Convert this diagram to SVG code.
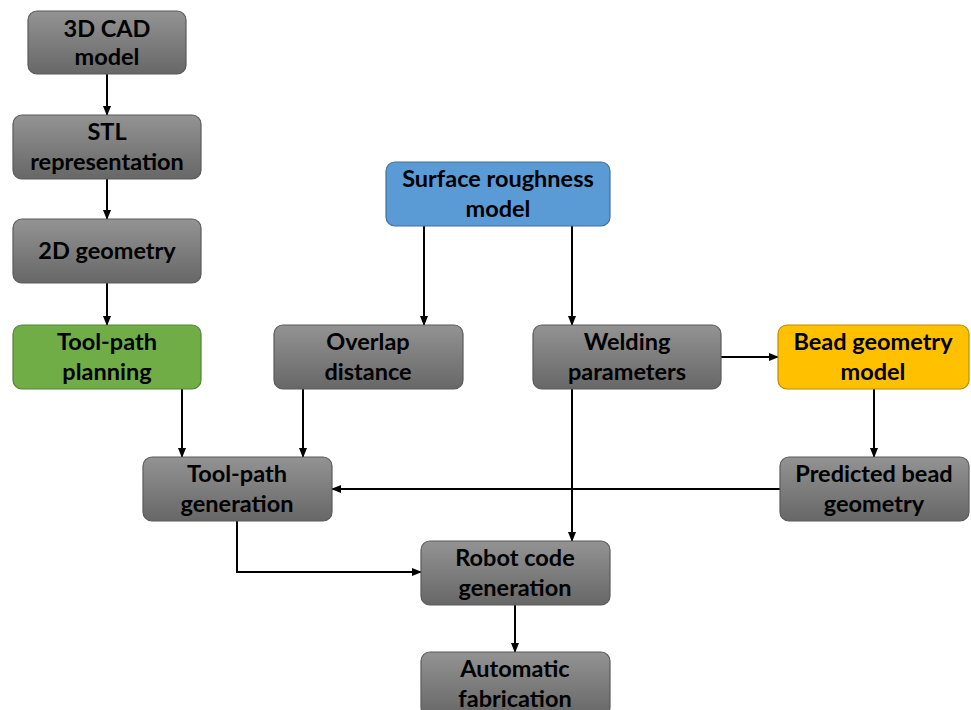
<svg xmlns="http://www.w3.org/2000/svg" width="971" height="710" viewBox="0 0 971 710">
<defs>
<linearGradient id="gray" x1="0" y1="0" x2="0" y2="1">
<stop offset="0" stop-color="#939393"/>
<stop offset="1" stop-color="#676767"/>
</linearGradient>
<marker id="arr" markerWidth="10" markerHeight="8" refX="9" refY="4" orient="auto" markerUnits="userSpaceOnUse">
<path d="M0,0 L10,4 L0,8 Z" fill="#000"/>
</marker>
<style>
.box{fill:url(#gray);stroke:#5a5a5a;stroke-width:1.2}
.green{fill:#70ad47;stroke:#548235;stroke-width:1.2}
.blue{fill:#5b9bd5;stroke:#41719c;stroke-width:1.2}
.yellow{fill:#ffc000;stroke:#bc8c00;stroke-width:1.2}
text{font-family:Lato,"Open Sans","Liberation Sans",sans-serif;font-weight:bold;font-size:23.5px;fill:#000;text-anchor:middle}
.c{fill:none;stroke:#000;stroke-width:2;marker-end:url(#arr)}
</style>
</defs>
<rect width="971" height="710" fill="#fff"/>
<g id="connectors">
<line class="c" x1="107" y1="74" x2="107" y2="115"/>
<line class="c" x1="107" y1="179" x2="107" y2="219"/>
<line class="c" x1="107" y1="283" x2="107" y2="325"/>
<line class="c" x1="182" y1="389" x2="182" y2="457"/>
<line class="c" x1="303" y1="389" x2="303" y2="457"/>
<line class="c" x1="424" y1="226" x2="424" y2="325"/>
<line class="c" x1="572" y1="226" x2="572" y2="325"/>
<line class="c" x1="721" y1="357" x2="778" y2="357"/>
<line class="c" x1="874" y1="389" x2="874" y2="457"/>
<line class="c" x1="780" y1="489" x2="332" y2="489"/>
<line class="c" x1="572" y1="389" x2="572" y2="541"/>
<polyline class="c" points="237,521 237,572 421,572"/>
<line class="c" x1="515" y1="605" x2="515" y2="652"/>
</g>
<g id="n1"><rect class="box" x="28" y="11" width="158" height="63" rx="9"/><text x="107" y="37">3D CAD</text><text x="107" y="65">model</text></g>
<g id="n2"><rect class="box" x="13" y="115" width="188" height="64" rx="9"/><text x="107" y="140">STL</text><text x="107" y="170">representation</text></g>
<g id="n3"><rect class="box" x="13" y="219" width="188" height="64" rx="9"/><text x="107" y="259">2D geometry</text></g>
<g id="n4"><rect class="green" x="13" y="325" width="188" height="64" rx="9"/><text x="107" y="350">Tool-path</text><text x="107" y="380">planning</text></g>
<g id="n5"><rect class="box" x="274" y="325" width="189" height="64" rx="9"/><text x="368" y="350">Overlap</text><text x="368" y="380">distance</text></g>
<g id="n6"><rect class="blue" x="386" y="162" width="224" height="64" rx="9"/><text x="498" y="187">Surface roughness</text><text x="498" y="217">model</text></g>
<g id="n7"><rect class="box" x="533" y="325" width="188" height="64" rx="9"/><text x="627" y="350">Welding</text><text x="627" y="380">parameters</text></g>
<g id="n8"><rect class="yellow" x="778" y="325" width="191" height="64" rx="9"/><text x="873" y="350">Bead geometry</text><text x="873" y="380">model</text></g>
<g id="n9"><rect class="box" x="143" y="457" width="189" height="64" rx="9"/><text x="237" y="482">Tool-path</text><text x="237" y="512">generation</text></g>
<g id="n10"><rect class="box" x="780" y="457" width="189" height="64" rx="9"/><text x="874" y="482">Predicted bead</text><text x="874" y="512">geometry</text></g>
<g id="n11"><rect class="box" x="421" y="541" width="189" height="64" rx="9"/><text x="515" y="566">Robot code</text><text x="515" y="596">generation</text></g>
<g id="n12"><rect class="box" x="421" y="652" width="189" height="64" rx="9"/><text x="515" y="677">Automatic</text><text x="515" y="707">fabrication</text></g>
</svg>
